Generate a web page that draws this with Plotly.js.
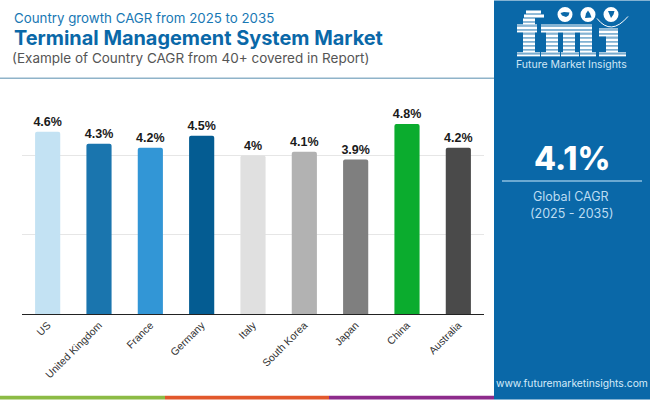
<!DOCTYPE html>
<html>
<head>
<meta charset="utf-8">
<script src="https://cdn.plot.ly/plotly-3.0.1.min.js"></script>
<style>html,body{margin:0;padding:0;background:#fff;overflow:hidden}#chart{width:650px;height:400px}</style>
</head>
<body>
<div id="chart"></div>
<script>
// ---- data ----
const countries = ["US","United Kingdom","France","Germany","Italy","South Korea","Japan","China","Australia"];
const cagr = [4.6,4.3,4.2,4.5,4,4.1,3.9,4.8,4.2];
const barColors = ["#c3e2f3","#1a75ae","#3296d6","#045c92","#e0e0e0","#b2b2b2","#7f7f7f","#0bac2e","#4a4a4a"];
const yTicks = [0,2,4];

// ---- page layout helpers (decoration only) ----
const W=650,H=400;
const M={l:22,r:166,t:115.8,b:85.7};
const px=x=>(x-M.l)/(W-M.l-M.r);
const py=y=>1-(y-M.t)/(H-M.t-M.b);
const BLUE="#0a68a8";
const shapes=[];
function rect(x0,y0,x1,y1,color,layer){
  shapes.push({type:"rect",xref:"paper",yref:"paper",x0:px(x0),x1:px(x1),y0:py(y1),y1:py(y0),
    fillcolor:color,line:{width:0},layer:layer||"below"});
}
function circle(cx,cy,r,color){
  shapes.push({type:"circle",xref:"paper",yref:"paper",x0:px(cx-r),x1:px(cx+r),y0:py(cy+r),y1:py(cy-r),
    fillcolor:color,line:{width:0},layer:"below"});
}
function pathPx(pts,opt){
  const d=pts.map((p,i)=>(i?"L":"M")+px(p[0])+","+py(p[1])).join(" ")+" Z";
  shapes.push(Object.assign({type:"path",xref:"paper",yref:"paper",path:d,layer:"below",line:{width:0}},opt));
}
rect(494,0,650,400,BLUE);
rect(0,77.3,494,78.8,"#8fb3c9");
rect(0,396.3,165,400,"#8cbb45");
rect(165,396.3,329,400,"#e2582c");
rect(329,396.3,494,400,"#8e2b8c");
rect(502,180.3,642,181.7,"#8dbfe0");

// striped fmi logo
const LOGO=[
 // f
 [526,10,541,14],[524,14,544,18],[523,18,535,24],[517,24,537,32],[523,32,535,52],[517,52,540,56],
 // m
 [541,24,592,32],[546,32,558,52],[563,32,575,52],[580,32,592,52],[541,52,560,56],[561,52,579,56],[580,52,596,56],
 // i
 [599,28,618,36],[606,36,618,52],[599,52,626,56]
];
const stripePitch=4, stripeH=3.1;
LOGO.forEach(r=>{
  for(let y=10;y<57;y+=stripePitch){
    const a=Math.max(y,r[1]),b=Math.min(y+stripeH,r[3]);
    if(b>a) rect(r[0],a,r[2],b,"#ffffff");
  }
});
[[565,14],[588,14],[611,14]].forEach(c=>circle(c[0],c[1],7.5,"#ffffff"));
pathPx([[560.5,12.5],[564,11.5],[569.5,12],[568.5,15],[566,16.5],[562,15]],{fillcolor:BLUE});
pathPx([[588,10],[590,13],[591.5,17],[585,17.5],[586,13]],{fillcolor:BLUE});
pathPx([[608,10.5],[614.5,10.5],[613.5,14],[611,17.5],[609.5,14]],{fillcolor:BLUE});
shapes.push({type:"path",xref:"paper",yref:"paper",layer:"below",line:{color:"#ffffff",width:1},
  path:`M${px(597)},${py(18)} Q${px(611)},${py(36)} ${px(628)},${py(16)}`});

// ---- text ----
const HEAD="Inter, 'Open Sans', sans-serif";
function label(text,x,y,size,color,anchor,weight){
  return {text,x:px(x),y:py(y),xref:"paper",yref:"paper",xanchor:anchor||"left",yanchor:"middle",
    showarrow:false,font:{family:HEAD,size,color,weight:weight||400}};
}
const annotations=[
  label("Country growth CAGR from 2025 to 2035",12,18,13.3,"#1878b4"),
  label("Terminal Management System Market",12,38,19.9,"#0a68a8","left",700),
  label("(Example of Country CAGR from 40+ covered in Report)",10,58,13.5,"#555555"),
  label("Future Market Insights",571,64,10.5,"#cfe6f6","center"),
  label("4.1%",572,158,32,"#ffffff","center",800),
  label("Global CAGR",571,197,12.5,"#bcdcf2","center"),
  label("(2025 - 2035)",571,214,12.5,"#bcdcf2","center"),
  label("www.futuremarketinsights.com",572,383,10.3,"#d5ebfa","center")
];

Plotly.newPlot("chart",[{
  type:"bar",
  x:countries,
  y:cagr,
  text:cagr.map(v=>v+"%"),
  textposition:"outside",
  constraintext:"none",
  cliponaxis:false,
  textangle:0,
  textfont:{family:"Liberation Sans, Arial, sans-serif",size:12.5,color:"#1a1a1a",weight:700},
  marker:{color:barColors,cornerradius:2,line:{width:0}},
  width:0.49,
  hoverinfo:"skip"
}],{
  width:W,height:H,
  margin:{l:M.l,r:M.r,t:M.t,b:M.b,pad:0},
  paper_bgcolor:"#ffffff",plot_bgcolor:"rgba(0,0,0,0)",
  showlegend:false,
  xaxis:{type:"category",range:[-0.5,8.5],tickangle:-45,ticks:"",
    tickfont:{family:"Liberation Sans, Arial, sans-serif",size:10.5,color:"#333333"},
    showline:true,linecolor:"#222222",linewidth:1,showgrid:false,zeroline:false,automargin:false},
  yaxis:{range:[0,5],tickvals:yTicks,showticklabels:false,ticks:"",showgrid:true,gridcolor:"#e6e6e6",gridwidth:1,
    zeroline:false,showline:false,automargin:false},
  shapes,annotations
},{displayModeBar:false,staticPlot:true});
</script>
</body>
</html>
